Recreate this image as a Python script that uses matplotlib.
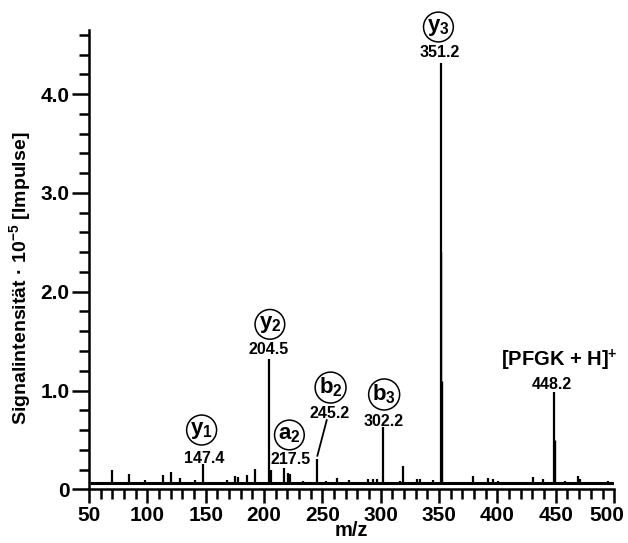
import matplotlib
matplotlib.use("Agg")
import matplotlib.pyplot as plt
import matplotlib.transforms as mtransforms
from matplotlib.ticker import MultipleLocator, FixedLocator

plt.rcParams["font.family"] = ["Liberation Sans", "DejaVu Sans"]
plt.rcParams["font.weight"] = "bold"
plt.rcParams["mathtext.fontset"] = "custom"
plt.rcParams["mathtext.rm"] = "Liberation Sans:bold"
plt.rcParams["mathtext.bf"] = "Liberation Sans:bold"
plt.rcParams["mathtext.it"] = "Liberation Sans:bold"

# --- Daten: Peaks (m/z, Intensität x 1e-5) ---------------------------------
BASIS = 0.065
peak_mz = [70.0, 84.3, 98.0, 113.7, 120.0, 128.0, 141.0, 147.4, 168.0, 175.4,
           178.0, 185.7, 192.6, 204.5, 205.7, 217.5, 220.5, 222.0, 233.0, 245.2,
           252.8, 262.3, 273.0, 289.0, 293.4, 296.6, 302.2, 308.0, 316.6, 319.4,
           330.8, 333.7, 345.0, 351.2, 362.0, 369.0, 379.4, 392.0, 396.0, 400.6,
           418.6, 430.3, 439.3, 448.2, 458.0, 468.9, 471.0, 485.0, 495.0]
peak_int = [0.20, 0.15, 0.09, 0.14, 0.18, 0.11, 0.09, 0.26, 0.09, 0.13,
            0.12, 0.14, 0.21, 1.32, 0.20, 0.22, 0.17, 0.15, 0.08, 0.31,
            0.08, 0.11, 0.09, 0.10, 0.10, 0.10, 0.63, 0.07, 0.08, 0.24,
            0.10, 0.10, 0.09, 4.32, 0.07, 0.07, 0.13, 0.11, 0.10, 0.08,
            0.07, 0.12, 0.10, 0.98, 0.08, 0.13, 0.10, 0.07, 0.08]

# Flanken der grossen Peaks
flanke_mz = [351.9, 352.4, 449.0]
flanke_int = [2.40, 1.10, 0.50]

# Beschriftungen: Ion, Kreis-Position, Massenwert, Position Massenwert
ionen = [r"$\mathbf{y_1}$", r"$\mathbf{y_2}$", r"$\mathbf{a_2}$",
         r"$\mathbf{b_2}$", r"$\mathbf{b_3}$", r"$\mathbf{y_3}$"]
ion_xy = [(146.5, 0.60), (205.0, 1.67), (221.7, 0.55),
          (257.0, 1.03), (302.9, 0.96), (349.4, 4.68)]
massen = ["147.4", "204.5", "217.5", "245.2", "302.2", "351.2"]
massen_xy = [(148.6, 0.31), (203.7, 1.42), (223.0, 0.30),
             (256.6, 0.77), (302.3, 0.69), (350.9, 4.42)]

fig = plt.figure(figsize=(6.28, 5.43), dpi=100)
ax = fig.add_axes([0.1417, 0.0989, 0.8363, 0.8459])

ax.hlines(BASIS, 51, 500, color="black", lw=2.2)
ax.vlines(flanke_mz, BASIS, flanke_int, color="black", lw=1.0)
ax.vlines(peak_mz, BASIS, peak_int, color="black", lw=1.6)

for txt, (x, y) in zip(ionen, ion_xy):
    ax.text(x, y, txt, ha="center", va="center", fontsize=16, clip_on=False,
            bbox=dict(boxstyle="circle,pad=0.16", fc="white", ec="black", lw=1.1))
for txt, (x, y) in zip(massen, massen_xy):
    ax.text(x, y, txt, ha="center", va="center", fontsize=11.5, fontweight="bold")

# Verbindungslinie fuer b2
ax.plot([245.7, 253.7], [0.34, 0.70], color="black", lw=1.3)

ax.text(452.9, 1.31, r"[PFGK + H]$^{\mathbf{+}}$", ha="center", va="center",
        fontsize=14.5, fontweight="bold")
ax.text(447.0, 1.057, "448.2", ha="center", va="center", fontsize=11.5,
        fontweight="bold")

ax.set_xlim(50, 500)
ax.set_ylim(0, 4.65)
ax.xaxis.set_major_locator(MultipleLocator(50))
ax.xaxis.set_minor_locator(MultipleLocator(10))
ax.yaxis.set_major_locator(FixedLocator([0, 1, 2, 3, 4]))
ax.yaxis.set_minor_locator(MultipleLocator(0.2))
ax.set_yticklabels(["0", "1.0", "2.0", "3.0", "4.0"])

for s in ["top", "right"]:
    ax.spines[s].set_visible(False)
for s in ["left", "bottom"]:
    ax.spines[s].set_linewidth(1.8)

ax.tick_params(which="major", length=10, width=1.8, labelsize=15, pad=2)
ax.tick_params(axis="y", which="major", length=12)
ax.tick_params(which="minor", length=7, width=1.8)

# letzte x-Beschriftung leicht nach links, damit "500" nicht abgeschnitten wird
fig.canvas.draw()
letzter = ax.xaxis.get_major_ticks()[-1].label1
for tick in ax.xaxis.get_major_ticks():
    if abs(tick.get_loc() - 500) < 1e-6:
        letzter = tick.label1
letzter.set_transform(letzter.get_transform() +
                      mtransforms.ScaledTranslation(-5 / 72, 0, fig.dpi_scale_trans))

ax.set_xlabel("m/z", fontsize=14.5, fontweight="bold", labelpad=-3)
ax.set_ylabel(r"Signalintensität · 10$^{\mathbf{-5}}$ [Impulse]", fontsize=14,
              fontweight="bold")
ax.yaxis.set_label_coords(-0.106, 0.46)

fig.savefig("out.png", dpi=100)
